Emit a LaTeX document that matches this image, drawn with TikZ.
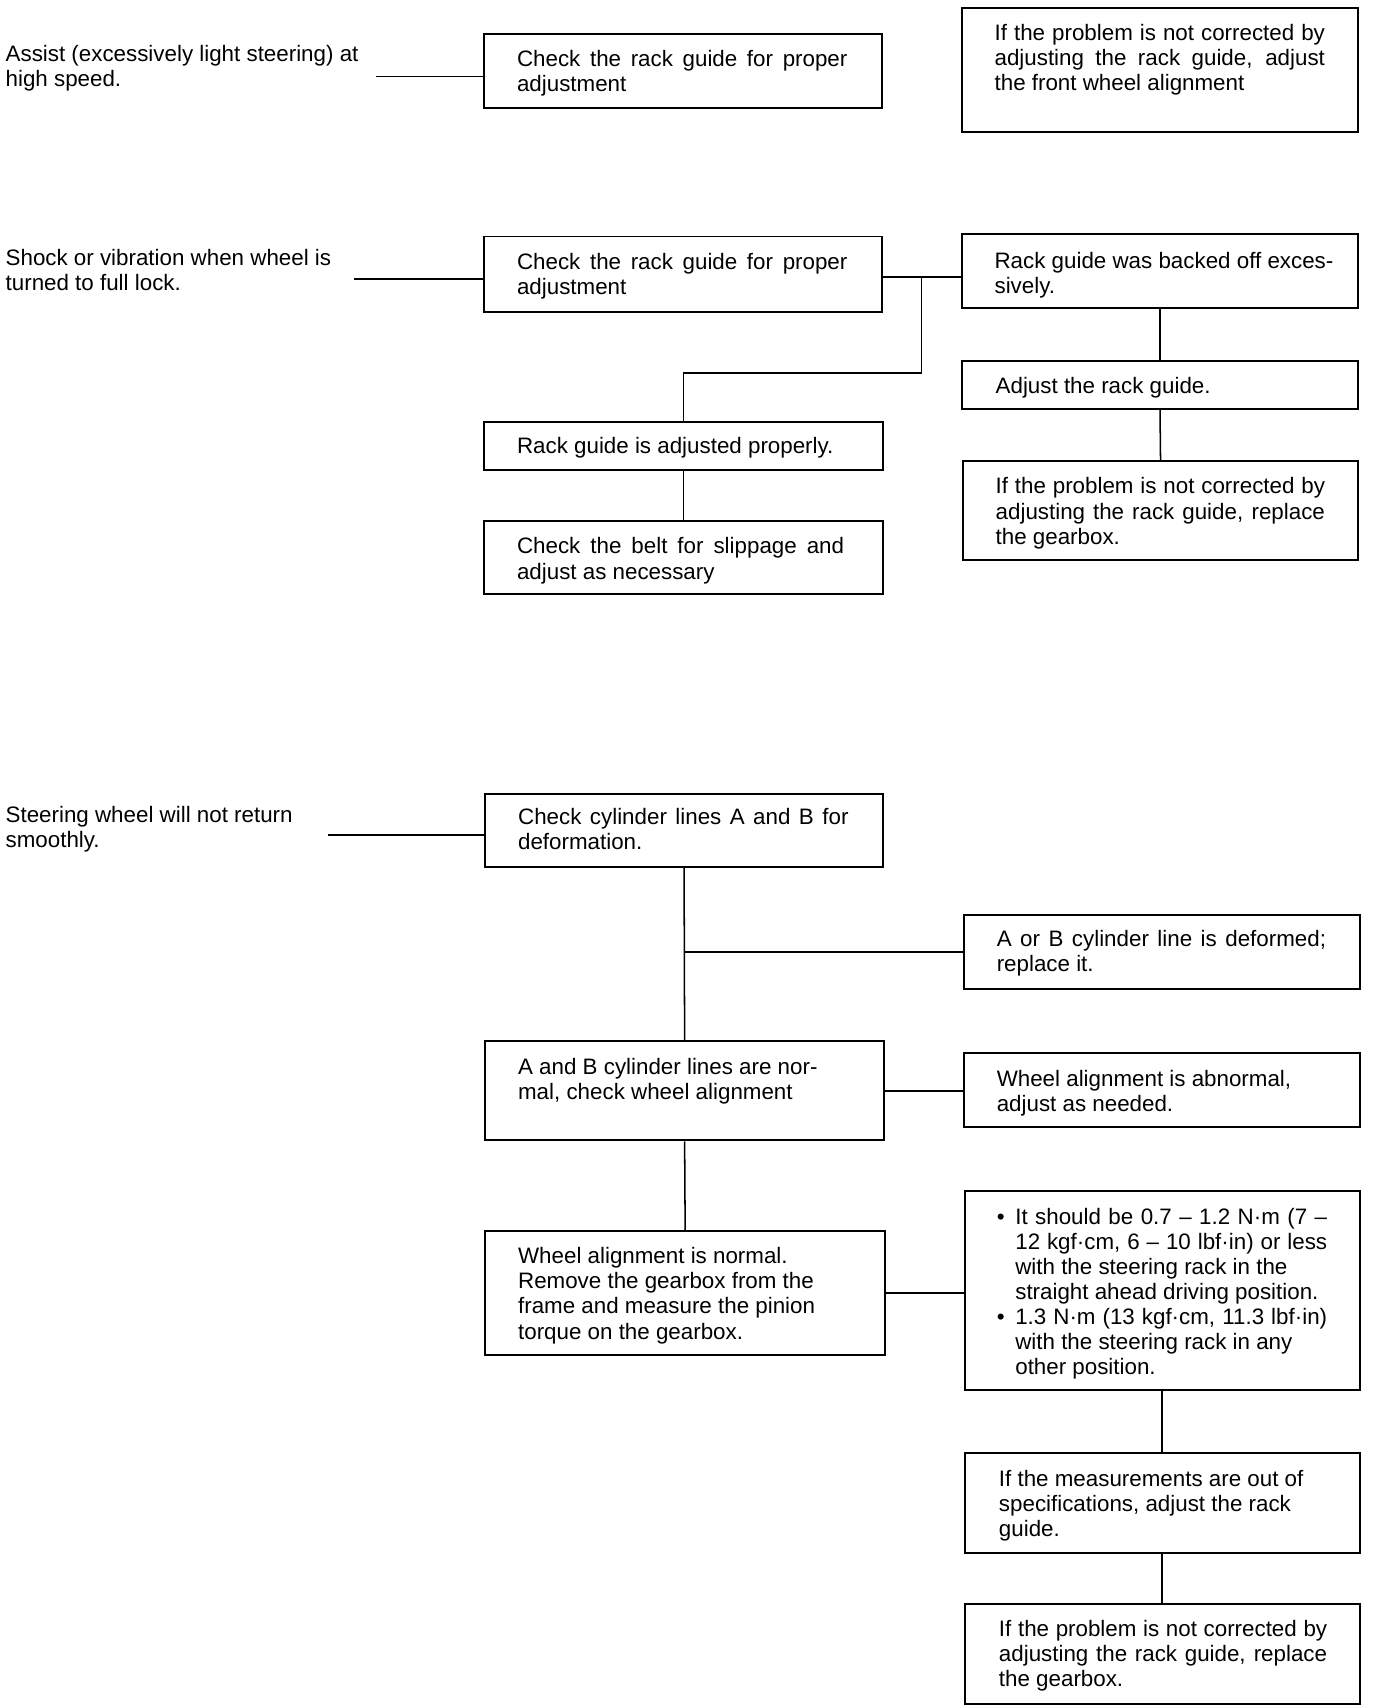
\documentclass[tikz,border=0pt]{standalone}
\usepackage{fontspec}
\setmainfont{Liberation Sans}
\usetikzlibrary{calc}
\newcommand{\jline}[2][303pt]{\makebox[#1][s]{#2}}
\newcommand{\bul}{\makebox[17pt][l]{•}}
\newcommand{\ind}{\hspace*{17pt}}
\begin{document}
\begin{tikzpicture}[x=1pt,y=-1pt,
  box/.style={draw=black,line width=1.8pt,rectangle,inner sep=0pt,anchor=north west},
  txt/.style={font=\fontsize{20.5}{23}\selectfont,align=left,inner sep=0pt,anchor=north west},
  conn/.style={draw=black,line width=1.4pt}]
\useasboundingbox[fill=white] (0,0) rectangle (1262,1566.5);
% boxes
\node[box,minimum width=365pt,minimum height=68pt] (b1) at (443,30) {};
\node[box,minimum width=364pt,minimum height=114pt] (b2) at (881,6) {};
\node[box,minimum width=365pt,minimum height=69pt] (b3) at (443,216) {};
\node[box,minimum width=364pt,minimum height=68pt] (b4) at (881,214) {};
\node[box,minimum width=366pt,minimum height=44pt] (b5) at (443,386) {};
\node[box,minimum width=364pt,minimum height=44pt] (b6) at (881,330) {};
\node[box,minimum width=363pt,minimum height=91pt] (b7) at (882,422) {};
\node[box,minimum width=366pt,minimum height=67pt] (b8) at (443,477) {};
\node[box,minimum width=365pt,minimum height=67pt] (b9) at (444,727) {};
\node[box,minimum width=366pt,minimum height=91pt] (b10) at (444,954) {};
\node[box,minimum width=363pt,minimum height=68pt] (b11) at (883,838) {};
\node[box,minimum width=363pt,minimum height=68pt] (b12) at (883,965) {};
\node[box,minimum width=367pt,minimum height=114pt] (b13) at (444,1128) {};
\node[box,minimum width=362pt,minimum height=183pt] (b14) at (884,1091) {};
\node[box,minimum width=362pt,minimum height=91pt] (b15) at (884,1332) {};
\node[box,minimum width=362pt,minimum height=92pt] (b16) at (884,1470) {};
% left labels
\node[txt] (l1) at (5,41) {Assist (excessively light steering) at\\high speed.};
\node[txt] (l2) at (5,228) {Shock or vibration when wheel is\\turned to full lock.};
\node[txt] (l3) at (5,739) {Steering wheel will not return\\smoothly.};
% box texts
\node[txt] (t1) at (474,46) {\jline{Check the rack guide for proper}\\adjustment};
\node[txt] (t2) at (912,22) {\jline{If the problem is not corrected by}\\\jline{adjusting the rack guide, adjust}\\the front wheel alignment};
\node[txt] (t3) at (474,232) {\jline{Check the rack guide for proper}\\adjustment};
\node[txt] (t4) at (912,231) {Rack guide was backed off exces-\\sively.};
\node[txt] (t5) at (474,401) {Rack guide is adjusted properly.};
\node[txt] (t6) at (913,346) {Adjust the rack guide.};
\node[txt] (t7) at (913,438) {\jline[302pt]{If the problem is not corrected by}\\\jline[302pt]{adjusting the rack guide, replace}\\the gearbox.};
\node[txt] (t8) at (474,493) {\jline[300pt]{Check the belt for slippage and}\\adjust as necessary};
\node[txt] (t9) at (475,741) {\jline{Check cylinder lines A and B for}\\deformation.};
\node[txt] (t10) at (475,970) {A and B cylinder lines are nor-\\mal, check wheel alignment};
\node[txt] (t11) at (914,853) {\jline[302pt]{A or B cylinder line is deformed;}\\replace it.};
\node[txt] (t12) at (914,981) {Wheel alignment is abnormal,\\adjust as needed.};
\node[txt] (t13) at (475,1144) {Wheel alignment is normal.\\Remove the gearbox from the\\frame and measure the pinion\\torque on the gearbox.};
\node[txt] (t14) at (914,1108) {\bul\jline[286pt]{It should be 0.7 – 1.2 N·m (7 –}\\\ind\jline[286pt]{12 kgf·cm, 6 – 10 lbf·in) or less}\\\ind with the steering rack in the\\\ind straight ahead driving position.\\\bul\jline[286pt]{1.3 N·m (13 kgf·cm, 11.3 lbf·in)}\\\ind with the steering rack in any\\\ind other position.};
\node[txt] (t15) at (916,1348) {If the measurements are out of\\specifications, adjust the rack\\guide.};
\node[txt] (t16) at (916,1486) {\jline[301pt]{If the problem is not corrected by}\\\jline[301pt]{adjusting the rack guide, replace}\\the gearbox.};
% free ends and junctions
\coordinate (s1) at (345,70);
\coordinate (s2) at (325,256);
\coordinate (s3) at (301,766);
\coordinate (j1) at (845,254);
\coordinate (k1) at (845,342);
% connectors
\draw[conn] (s1) -- (s1 -| b1.west);
\draw[conn] ($(b1.east)+(0,5)$) -- ($(b1.east)+(0,5)$ -| b2.west);
\draw[conn] (s2) -- (s2 -| b3.west);
\draw[conn] (b3.east |- j1) -- (j1 -| b4.west);
\draw[conn] (j1) -- (k1) -| (b5.north);
\draw[conn] (b4.south) -- (b6.north);
\draw[conn] (b6.south) -- (b7.north);
\draw[conn] (b5.south) -- (b8.north);
\draw[conn] (s3) -- (s3 -| b9.west);
\draw[conn] (b9.south) -- (b10.north);
\draw[conn] (b9.south |- b11.west) -- (b11.west);
\draw[conn] (b10.east) -- (b10.east -| b12.west);
\draw[conn] (b10.south) -- (b13.north);
\draw[conn] (b13.east) -- (b13.east -| b14.west);
\draw[conn] (b14.south) -- (b15.north);
\draw[conn] (b15.south) -- (b16.north);
\end{tikzpicture}
\end{document}
